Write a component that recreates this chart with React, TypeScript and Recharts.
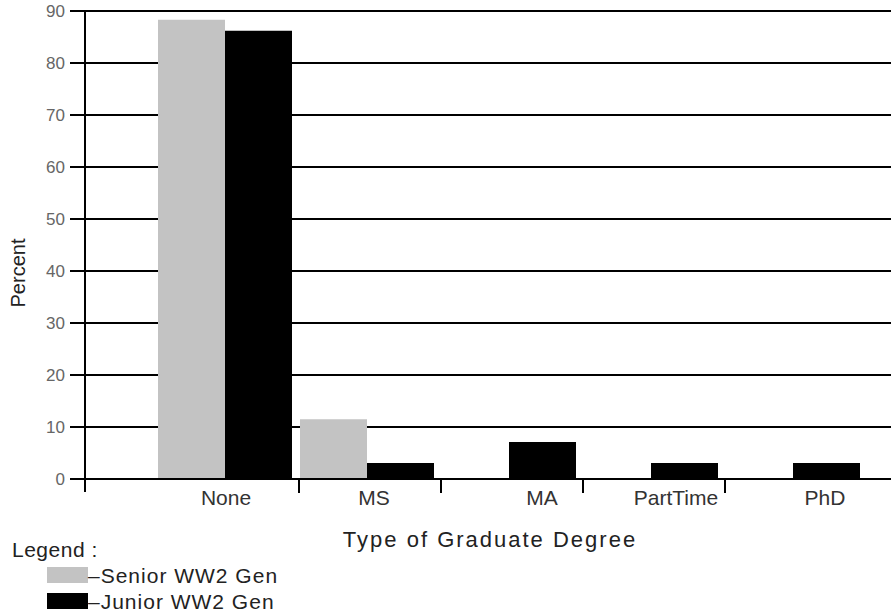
import React from 'react';
import { BarChart, Bar, XAxis, YAxis, CartesianGrid } from 'recharts';

const categories = ['None', 'MS', 'MA', 'PartTime', 'PhD'];
const seniorWW2 = [88.3, 11.5, 0, 0, 0];
const juniorWW2 = [86.2, 3.1, 7.1, 3.1, 3.1];
const yTicks = [0, 10, 20, 30, 40, 50, 60, 70, 80, 90];
const seriesNames = ['Senior WW2 Gen', 'Junior WW2 Gen'];

const data = categories.map((name, i) => ({
  name,
  senior: seniorWW2[i],
  junior: juniorWW2[i],
}));

const PAD_LEFT = 69;
const PAD_RIGHT = 27;
const labelNudge = [1, 7, 33, 25, 32];
const FONT = "'Liberation Sans', Arial, sans-serif";
const GRAY = '#c3c3c3';

const XTick = (props: any) => {
  const { x, y, payload, index } = props;
  const off = payload && payload.offset > 0 ? payload.offset : 71;
  const i = typeof index === 'number' ? index : payload?.index ?? 0;
  const last = i === categories.length - 1;
  return (
    <g>
      {i === 0 && (
        <line x1={x - off - PAD_LEFT} x2={x - off - PAD_LEFT} y1={y} y2={y + 13} stroke="#000" strokeWidth={2} />
      )}
      {!last && <line x1={x + off + 3} x2={x + off + 3} y1={y} y2={y + 14} stroke="#000" strokeWidth={2} />}
      <text x={x + (labelNudge[i] || 0)} y={y + 26} textAnchor="middle" fill="#333" fontSize={21} fontFamily={FONT}>
        {payload.value}
      </text>
    </g>
  );
};

export default function App() {
  return (
    <div style={{ position: 'absolute', left: 0, top: 0, width: 891, height: 613, background: '#fff', fontFamily: FONT }}>
      <BarChart
        width={891}
        height={613}
        data={data}
        margin={{ top: 11, right: 0, left: 0, bottom: 94 }}
        barCategoryGap={4}
        barGap={0}
      >
        <CartesianGrid vertical={false} stroke="#000" strokeWidth={2} />
        <XAxis
          dataKey="name"
          type="category"
          interval={0}
          height={40}
          padding={{ left: PAD_LEFT, right: PAD_RIGHT }}
          axisLine={{ stroke: '#000', strokeWidth: 2 }}
          tickLine={false}
          tickSize={0}
          tickMargin={0}
          tick={<XTick />}
        />
        <YAxis
          width={85}
          domain={[0, 90]}
          ticks={yTicks}
          interval={0}
          axisLine={{ stroke: '#000', strokeWidth: 2 }}
          tickLine={{ stroke: '#000', strokeWidth: 2 }}
          tickSize={15}
          tickMargin={5}
          tick={{ fill: '#666', fontSize: 17, fontFamily: FONT }}
        />
        <Bar dataKey="senior" name={seriesNames[0]} fill={GRAY} isAnimationActive={false} />
        <Bar dataKey="junior" name={seriesNames[1]} fill="#000" isAnimationActive={false} />
      </BarChart>
      <svg
        width={891}
        height={613}
        style={{ position: 'absolute', left: 0, top: 0, pointerEvents: 'none' }}
      >
        <text x={490} y={547} textAnchor="middle" fontSize={22} letterSpacing={2} fill="#222" fontFamily={FONT}>
          Type of Graduate Degree
        </text>
        <text transform="translate(25,273) rotate(-90)" textAnchor="middle" fontSize={20} fill="#222" fontFamily={FONT}>
          Percent
        </text>
        <text x={12} y={557} fontSize={21} letterSpacing={0.5} fill="#222" fontFamily={FONT}>
          Legend :
        </text>
        <rect x={47} y={567} width={41} height={16} fill={GRAY} />
        <rect x={47} y={593} width={41} height={16} fill="#000" />
        <text x={88} y={583} fontSize={21} letterSpacing={1} fill="#222" fontFamily={FONT}>
          {'–' + seriesNames[0]}
        </text>
        <text x={88} y={609} fontSize={21} letterSpacing={1} fill="#222" fontFamily={FONT}>
          {'–' + seriesNames[1]}
        </text>
      </svg>
    </div>
  );
}
